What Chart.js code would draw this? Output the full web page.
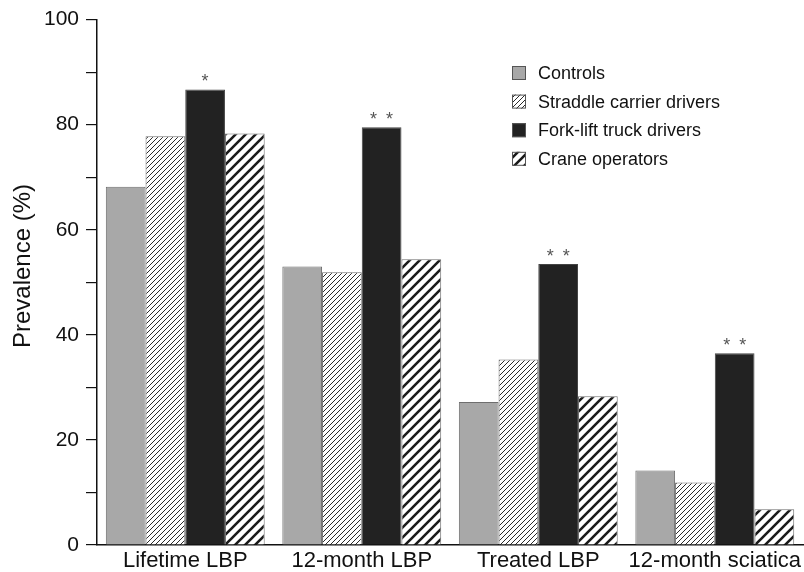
<!DOCTYPE html>
<html><head><meta charset="utf-8">
<script src="https://cdn.jsdelivr.net/npm/chart.js@4/dist/chart.umd.min.js"></script>
<style>html,body{margin:0;padding:0;background:#fff}#wrap{width:804px;height:572px;position:relative}</style>
</head><body><div id="wrap"><canvas id="c" width="804" height="572"></canvas></div>
<script>
const categories = ['Lifetime LBP', '12-month LBP', 'Treated LBP', '12-month sciatica'];
const seriesNames = ['Controls', 'Straddle carrier drivers', 'Fork-lift truck drivers', 'Crane operators'];
const controls = [68.2, 53.0, 27.2, 14.2];
const straddle = [77.8, 51.9, 35.3, 11.9];
const forklift = [86.7, 79.5, 53.5, 36.5];
const crane = [78.3, 54.4, 28.3, 6.8];
const significance = ['*', '* *', '* *', '* *'];
const yTickLabels = [0, 20, 40, 60, 80, 100];
const yTitle = 'Prevalence (%)';

function hatch(size, width, color) {
  const t = document.createElement('canvas');
  t.width = size; t.height = size;
  const g = t.getContext('2d');
  g.fillStyle = '#fff'; g.fillRect(0, 0, size, size);
  g.strokeStyle = color; g.lineWidth = width; g.lineCap = 'square';
  g.beginPath();
  g.moveTo(0, size); g.lineTo(size, 0);
  g.moveTo(-size / 2, size / 2); g.lineTo(size / 2, -size / 2);
  g.moveTo(size / 2, size * 1.5); g.lineTo(size * 1.5, size / 2);
  g.stroke();
  return g.createPattern(t, 'repeat');
}
const fineHatch = hatch(5, 1, '#2a2a2a');
const wideHatch = hatch(10, 2.6, '#1a1a1a');

Chart.defaults.font.family = "'Liberation Sans', Arial, sans-serif";
Chart.defaults.color = '#111';

const legendPlugin = {
  id: 'boxLegend',
  afterDraw(chart) {
    const ctx = chart.ctx;
    ctx.save();
    ctx.font = "18px 'Liberation Sans', Arial, sans-serif";
    ctx.textBaseline = 'middle';
    ctx.textAlign = 'left';
    chart.data.datasets.forEach((ds, i) => {
      const cy = 73 + i * 28.6;
      ctx.fillStyle = ds.backgroundColor;
      ctx.fillRect(512, cy - 7, 14, 14);
      ctx.strokeStyle = '#555';
      ctx.lineWidth = 1;
      ctx.strokeRect(512.5, cy - 6.5, 13, 13);
      ctx.fillStyle = '#111';
      ctx.fillText(ds.label, 538, cy + 1);
    });
    ctx.restore();
  }
};

const starsPlugin = {
  id: 'stars',
  afterDatasetsDraw(chart) {
    const ctx = chart.ctx;
    const meta = chart.getDatasetMeta(2);
    ctx.save();
    ctx.font = "18px 'Liberation Sans', Arial, sans-serif";
    ctx.fillStyle = '#555';
    ctx.textAlign = 'center';
    ctx.textBaseline = 'alphabetic';
    meta.data.forEach((el, i) => {
      const parts = significance[i].split(' ');
      parts.forEach((p, j) => {
        const x = el.x + (j - (parts.length - 1) / 2) * 16;
        ctx.fillText(p, x, el.y - 2);
      });
    });
    ctx.restore();
  }
};

const titlePlugin = {
  id: 'yTitle',
  afterDraw(chart) {
    const ctx = chart.ctx;
    ctx.save();
    ctx.translate(23, 266);
    ctx.rotate(-Math.PI / 2);
    ctx.font = "24px 'Liberation Sans', Arial, sans-serif";
    ctx.fillStyle = '#111';
    ctx.textAlign = 'center';
    ctx.textBaseline = 'middle';
    ctx.fillText(yTitle, 0, 0);
    ctx.restore();
  }
};

new Chart(document.getElementById('c'), {
  type: 'bar',
  data: {
    labels: categories,
    datasets: [
      { label: seriesNames[0], data: controls, backgroundColor: '#a8a8a8', borderColor: '#6e6e6e', borderWidth: 1 },
      { label: seriesNames[1], data: straddle, backgroundColor: fineHatch, borderColor: '#6e6e6e', borderWidth: 1 },
      { label: seriesNames[2], data: forklift, backgroundColor: '#222', borderColor: '#444', borderWidth: 1 },
      { label: seriesNames[3], data: crane, backgroundColor: wideHatch, borderColor: '#6e6e6e', borderWidth: 1 }
    ]
  },
  options: {
    responsive: false,
    animation: false,
    categoryPercentage: 0.9,
    barPercentage: 1.0,
    layout: { padding: { top: 17, right: 0, left: 0, bottom: 0 } },
    plugins: { legend: { display: false }, tooltip: { enabled: false } },
    scales: {
      x: {
        grid: { display: false, drawTicks: false },
        border: { display: true, color: '#111', width: 1.5 },
        ticks: { font: { size: 22 }, color: '#111', padding: 3, maxRotation: 0, autoSkip: false },
        afterFit(s) { s.height = 27; }
      },
      y: {
        min: 0, max: 100,
        grid: { drawOnChartArea: false, drawTicks: true, tickLength: 11, color: '#111', lineWidth: 1.2 },
        border: { display: true, color: '#111', width: 1.5 },
        ticks: {
          stepSize: 10, padding: 7, font: { size: 21 }, color: '#111',
          callback: v => yTickLabels.includes(v) ? String(v) : ''
        },
        afterFit(s) { s.width = 97; }
      }
    }
  },
  plugins: [legendPlugin, starsPlugin, titlePlugin]
});
</script>
</body></html>
